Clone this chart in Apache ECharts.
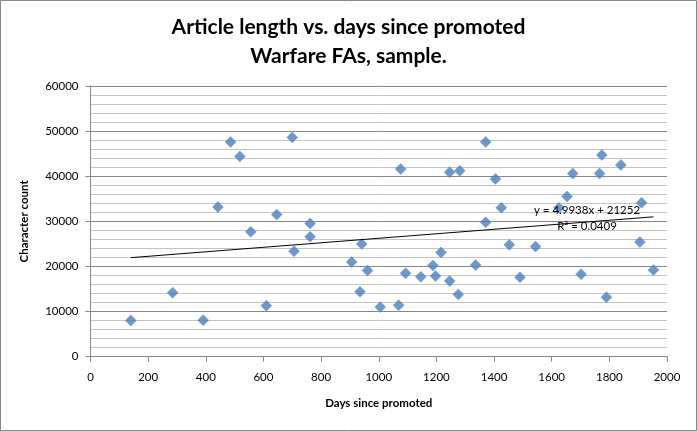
<!DOCTYPE html>
<html>
<head>
<meta charset="utf-8">
<script src="https://cdn.jsdelivr.net/npm/echarts@6/dist/echarts.min.js"></script>
<style>html,body{margin:0;padding:0;background:#fff}#c{width:697px;height:431px}</style>
</head>
<body>
<div id="c"></div>
<script>
const titleText = "Article length vs. days since promoted\nWarfare FAs, sample.";
const xAxisName = "Days since promoted";
const yAxisName = "Character count";
const days = [140,285,391,442,486,518,556,610,646,700,706,762,762,906,935,941,961,1005,1069,1076,1093,1146,1188,1197,1216,1246,1246,1276,1281,1336,1371,1371,1405,1425,1453,1490,1544,1625,1653,1673,1702,1766,1774,1790,1840,1906,1912,1953];
const chars = [8000,14200,8100,33200,47600,44400,27700,11300,31500,48600,23400,29500,26600,21000,14400,25000,19100,11000,11400,41600,18500,17700,20200,17900,23100,40900,16800,13800,41200,20300,47600,29800,39400,33000,24800,17600,24400,33000,35500,40600,18300,40600,44700,13200,42500,25400,34100,19200];
const trendSlope = 4.9938;
const trendIntercept = 21252;
const trendR2 = 0.0409;

const FONT = 'Lato, "Open Sans", sans-serif';
const pts = days.map((d, i) => [d, chars[i]]);
const xMin = Math.min(...days), xMax = Math.max(...days);
const trend = [[xMin, trendSlope * xMin + trendIntercept], [xMax, trendSlope * xMax + trendIntercept]];
const plain = v => String(v);

const MAJOR = '#868686', MINOR = '#c3c3c3';

const chart = echarts.init(document.getElementById('c'), null, {renderer: 'canvas'});
chart.setOption({
  animation: false,
  backgroundColor: '#fff',
  title: {
    text: titleText, left: 'center', top: 13, padding: 0,
    textStyle: {fontFamily: FONT, fontWeight: 'bold', fontSize: 21, lineHeight: 29, color: '#000'}
  },
  grid: {left: 90.5, right: 30, top: 86, bottom: 74.3},
  xAxis: {
    type: 'value', min: 0, max: 2000, interval: 200,
    name: xAxisName, nameLocation: 'middle', nameGap: 41,
    nameTextStyle: {fontFamily: FONT, fontWeight: 'bold', fontSize: 11.5, color: '#000'},
    axisLine: {show: true, onZero: false, lineStyle: {color: MAJOR, width: 1}},
    axisTick: {show: true, length: 5, inside: false, lineStyle: {color: MAJOR}},
    axisLabel: {fontFamily: FONT, fontSize: 11.5, color: '#000', margin: 15, formatter: plain},
    splitLine: {show: false}
  },
  yAxis: [
    {
      type: 'value', min: 0, max: 60000, interval: 10000, z: 2,
      name: yAxisName, nameLocation: 'middle', nameGap: 60, nameRotate: 90,
      nameTextStyle: {fontFamily: FONT, fontWeight: 'bold', fontSize: 11.5, color: '#000'},
      axisLine: {show: true, onZero: false, lineStyle: {color: MAJOR, width: 1}},
      axisTick: {show: true, length: 5, inside: false, lineStyle: {color: MAJOR}},
      axisLabel: {fontFamily: FONT, fontSize: 11.5, color: '#000', margin: 12, formatter: plain},
      splitLine: {show: false}
    },
    {
      type: 'value', min: 0, max: 60000, interval: 2000, position: 'left', z: 0,
      axisLine: {show: false}, axisTick: {show: false}, axisLabel: {show: false},
      splitLine: {show: true, lineStyle: {color: [MAJOR, MINOR, MINOR, MINOR, MINOR], width: 1}}
    }
  ],
  series: [
    {
      type: 'scatter', data: pts, symbol: 'diamond', symbolSize: [11, 11], yAxisIndex: 0,
      itemStyle: {color: '#4a7ebb', borderColor: '#5b8fcb', borderWidth: 0.5}, z: 2
    },
    {
      type: 'line', data: trend, showSymbol: false, symbol: 'none', yAxisIndex: 0,
      lineStyle: {color: '#000', width: 1}, z: 3, silent: true
    }
  ],
  graphic: [
    {type: 'rect', shape: {x: 0.5, y: 0.5, width: 696, height: 430}, style: {fill: null, stroke: MAJOR, lineWidth: 1}, z: 10},
    {type: 'text', x: 587, y: 210, z: 10, style: {text: 'y = ' + trendSlope + 'x + ' + trendIntercept, fontFamily: FONT, fontSize: 11.5, fill: '#000', align: 'center', verticalAlign: 'middle'}},
    {type: 'text', x: 587, y: 226, z: 10, style: {text: 'R² = ' + trendR2, fontFamily: FONT, fontSize: 11.5, fill: '#000', align: 'center', verticalAlign: 'middle'}}
  ]
});
</script>
</body>
</html>
